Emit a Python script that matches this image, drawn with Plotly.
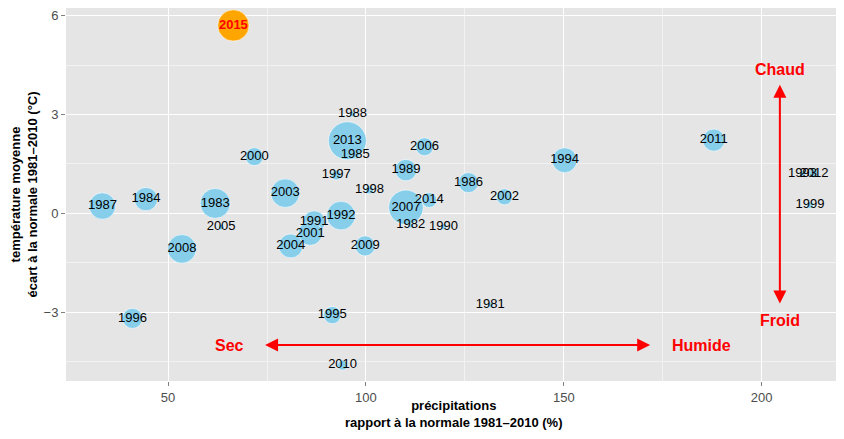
import plotly.graph_objects as go

# ---- data ----
annees = [1981, 1982, 1983, 1984, 1985, 1986, 1987, 1988, 1989, 1990,
          1991, 1992, 1993, 1994, 1995, 1996, 1997, 1998, 1999, 2000,
          2001, 2002, 2003, 2004, 2005, 2006, 2007, 2008, 2009, 2010,
          2011, 2012, 2013, 2014, 2015]
precipitations = [131.4, 111.3, 61.9, 44.4, 97.3, 125.9, 33.4, 96.6, 110.1, 119.6,
                  86.9, 93.7, 210.3, 150.2, 91.5, 41.0, 92.5, 100.9, 212.2, 71.8,
                  85.9, 135.0, 79.6, 81.0, 63.4, 114.8, 110.1, 53.5, 99.8, 94.1,
                  187.9, 213.2, 95.3, 116.0, 66.5]
temperature = [-2.78, -0.36, 0.30, 0.43, 1.79, 0.93, 0.22, 3.01, 1.31, -0.41,
               -0.26, -0.07, 1.21, 1.61, -3.09, -3.19, 1.16, 0.71, 0.25, 1.72,
               -0.61, 0.50, 0.61, -0.99, -0.42, 2.02, 0.18, -1.08, -0.99, -4.61,
               2.22, 1.21, 2.20, 0.40, 5.70]
indice = [2.5, 2.5, 62.5, 38, 7, 28, 49, 2.5, 32, 2.5,
          34, 57, 2.5, 43, 21, 28, 7, 4.5, 3.4, 22.5,
          40, 18, 57, 40, 2.5, 22.5, 83, 57, 28, 7,
          34, 5.6, 100, 15.6, 68]

annee_focus = 2015

x_ticks = [50, 100, 150, 200]
y_ticks = [-3, 0, 3, 6]
y_ticktext = ["\u22123", "0", "3", "6"]

titre_x = "précipitations<br>rapport à la normale 1981–2010 (%)"
titre_y = "température moyenne<br>écart à la normale 1981–2010 (°C)"

fleche_h = dict(y=-4, gauche=74.5, droite=172.2)
fleche_v = dict(x=204.6, haut=3.9, bas=-2.78)
etiquettes = [("Sec", 65.5, -4), ("Humide", 184.7, -4),
              ("Chaud", 204.6, 4.35), ("Froid", 204.6, -3.24)]

# ---- split focus / others ----
idx_o = [i for i, a in enumerate(annees) if a != annee_focus]
idx_f = [i for i, a in enumerate(annees) if a == annee_focus]

FONT = "Liberation Sans, Arial, sans-serif"
SIZEREF = 1 / 7.2

fig = go.Figure()
fig.add_trace(go.Scatter(
    x=[precipitations[i] for i in idx_o],
    y=[temperature[i] for i in idx_o],
    text=[str(annees[i]) for i in idx_o],
    mode="markers+text",
    textposition="middle center",
    textfont=dict(family=FONT, size=13, color="#000000"),
    marker=dict(size=[indice[i] for i in idx_o], sizemode="area", sizeref=SIZEREF, opacity=1,
                color="#87CEEB", line=dict(color="white", width=0.6)),
    hoverinfo="skip", showlegend=False,
))
fig.add_trace(go.Scatter(
    x=[precipitations[i] for i in idx_f],
    y=[temperature[i] for i in idx_f],
    text=["<b>%d</b>" % annees[i] for i in idx_f],
    mode="markers+text",
    textposition="middle center",
    textfont=dict(family=FONT, size=13, color="#FF0000"),
    marker=dict(size=[indice[i] for i in idx_f], sizemode="area", sizeref=SIZEREF, opacity=1,
                color="#FFA500", line=dict(color="white", width=0.6)),
    hoverinfo="skip", showlegend=False,
))

annots = []
annots.append(dict(x=fleche_h["gauche"], y=fleche_h["y"], ax=fleche_h["droite"], ay=fleche_h["y"],
                   xref="x", yref="y", axref="x", ayref="y", text="", showarrow=True,
                   arrowhead=2, startarrowhead=2, arrowside="end+start",
                   arrowsize=1.3, startarrowsize=1.3, arrowwidth=2, arrowcolor="#FF0000"))
annots.append(dict(x=fleche_v["x"], y=fleche_v["haut"], ax=fleche_v["x"], ay=fleche_v["bas"],
                   xref="x", yref="y", axref="x", ayref="y", text="", showarrow=True,
                   arrowhead=2, startarrowhead=2, arrowside="end+start",
                   arrowsize=1.3, startarrowsize=1.3, arrowwidth=2, arrowcolor="#FF0000"))
for txt, xv, yv in etiquettes:
    annots.append(dict(x=xv, y=yv, xref="x", yref="y", text="<b>%s</b>" % txt, showarrow=False,
                       font=dict(family=FONT, size=16, color="#FF0000"),
                       xanchor="center", yanchor="middle"))
# x-axis title
annots.append(dict(x=0.5, y=-0.089, xref="paper", yref="paper",
                   text="<b>" + titre_x.replace("<br>", "</b><br><b>") + "</b>",
                   showarrow=False, xanchor="center", yanchor="middle",
                   font=dict(family=FONT, size=13, color="#000000")))

# page body has an 8px margin: figure is sized so the page does not overflow
fig.update_layout(
    width=836, height=423,
    margin=dict(l=58, r=2, t=0, b=50, autoexpand=False),
    paper_bgcolor="white", plot_bgcolor="#E5E5E5",
    font=dict(family=FONT, size=13, color="#000000"),
    annotations=annots,
    xaxis=dict(range=[24.2, 220.3], tickvals=x_ticks, showgrid=True, gridcolor="white", gridwidth=1.2,
               zeroline=False, ticks="outside", ticklen=4, tickcolor="#7F7F7F", automargin=False,
               tickfont=dict(size=13, color="#4D4D4D"),
               minor=dict(tickvals=[75, 125, 175], showgrid=True, gridcolor="#F2F2F2", gridwidth=0.6, ticks="")),
    yaxis=dict(range=[-5.09, 6.23], tickvals=y_ticks, ticktext=y_ticktext, showgrid=True,
               gridcolor="white", gridwidth=1.2, automargin=False,
               zeroline=False, ticks="outside", ticklen=4, tickcolor="#7F7F7F",
               tickfont=dict(size=13, color="#4D4D4D"),
               minor=dict(tickvals=[-4.5, -1.5, 1.5, 4.5], showgrid=True, gridcolor="#F2F2F2", gridwidth=0.6, ticks=""),
               title=dict(text="<b>" + titre_y.replace("<br>", "</b><br><b>") + "</b>",
                          font=dict(size=13, color="#000000"), standoff=4)),
)

fig.write_html("out.html")
